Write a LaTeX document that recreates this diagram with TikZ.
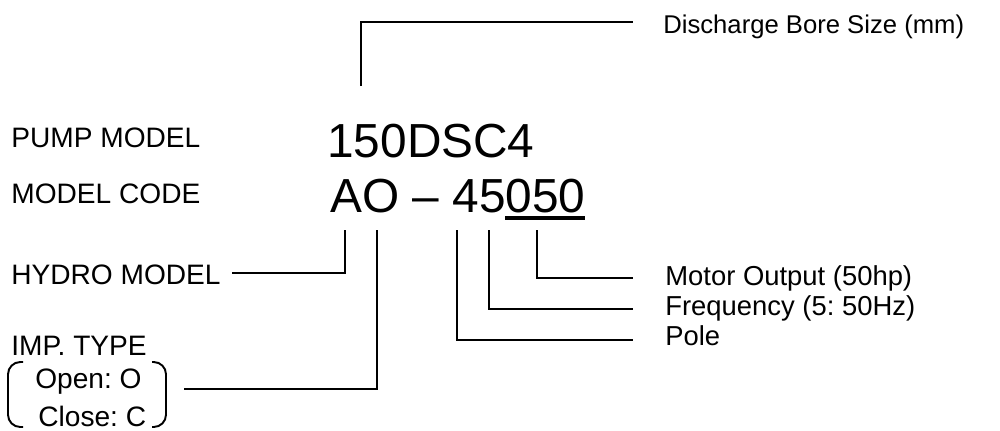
\documentclass[tikz,border=0pt]{standalone}
\usepackage{fontspec}
\setmainfont{Liberation Sans}
\usetikzlibrary{positioning}
\frenchspacing

\begin{document}
\begin{tikzpicture}[x=0.02cm,y=-0.02cm]
\tikzset{
 lbl/.style={anchor=base west,inner sep=0pt,font=\fontsize{15.6}{18}\selectfont},
 leftlbl/.style={lbl,font=\fontsize{16}{19}\selectfont},
 codetxt/.style={anchor=base west,inner sep=0pt,font=\fontsize{27.2}{31}\selectfont},
 conn/.style={line width=1.1pt}
}
\useasboundingbox (0,0) rectangle (1000,430);
% left labels
\node[leftlbl] (pump) at (11,147) {PUMP MODEL};
\node[leftlbl] (mcode) at (11,203) {MODEL CODE};
\node[leftlbl] (hydro) at (11,284) {HYDRO MODEL};
\node[leftlbl] (imp) at (11,355) {IMP. TYPE};
\node[leftlbl] (open) at (35,388) {Open: O};
\node[leftlbl] (close) at (38,426) {Close: C};
% model and code
\node[codetxt] (model) at (327,157) {150DSC4};
\node[codetxt] (codeno) at (330,212) {AO -- 45050};
\coordinate (ulA) at (505,218);
\coordinate (ulB) at (585,218);
\draw[line width=1.8pt] (ulA) -- (ulB);
% right labels
\node[lbl,font=\fontsize{14.6}{17}\selectfont] (bore) at (663,33) {Discharge Bore Size (mm)};
\node[lbl] (motor) at (665,285) {Motor Output (50hp)};
\node[lbl] (freq) at (665,315) {Frequency (5: 50Hz)};
\node[lbl] (pole) at (665,345) {Pole};
% connector points
\coordinate (tbore) at (361,86);
\coordinate (ebore) at (633,22);
\coordinate (tA) at (345,230);
\coordinate (tO) at (377,230);
\coordinate (tfour) at (457,230);
\coordinate (tfive) at (489,230);
\coordinate (tzero) at (537,230);
\coordinate (ehydro) at (232,273);
\coordinate (eimp) at (184,389);
\coordinate (emotor) at (633,278);
\coordinate (efreq) at (633,309);
\coordinate (epole) at (633,340);
\draw[conn] (tbore) |- (ebore);
\draw[conn] (tA) |- (ehydro);
\draw[conn] (tO) |- (eimp);
\draw[conn] (tzero) |- (emotor);
\draw[conn] (tfive) |- (efreq);
\draw[conn] (tfour) |- (epole);
% brackets
\draw[conn,rounded corners=7pt] (23,362) -| (8,427) -- (23,427);
\draw[conn,rounded corners=7pt] (152,362) -| (166,427) -- (152,427);
\end{tikzpicture}
\end{document}
